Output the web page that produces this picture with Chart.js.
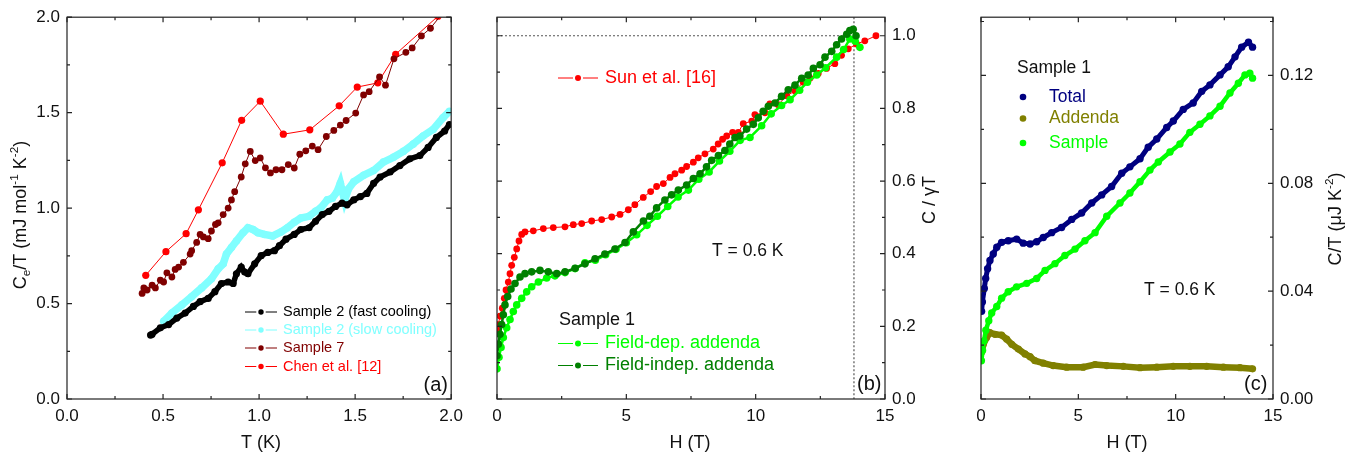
<!DOCTYPE html>
<html>
<head>
<meta charset="utf-8">
<script src="https://cdn.jsdelivr.net/npm/chart.js@4.4.1/dist/chart.umd.min.js"></script>
<style>
  html, body { margin: 0; padding: 0; background: #fff; }
  #wrap { position: relative; width: 1371px; height: 460px; overflow: hidden; }
  .pane { position: absolute; top: 0; height: 460px; }
</style>
</head>
<body>
<div id="wrap">
  <div class="pane" style="left:0;width:470px"><canvas id="cA" width="470" height="460"></canvas></div>
  <div class="pane" style="left:470px;width:490px"><canvas id="cB" width="490" height="460"></canvas></div>
  <div class="pane" style="left:960px;width:411px"><canvas id="cC" width="411" height="460"></canvas></div>
</div>
<script>
// ---- panel (a): Ce/T vs T ----
var fastT = [0.435,0.443,0.486,0.529,0.572,0.615,0.658,0.693,0.735,0.77,0.804,0.839,0.865,0.882,0.907,0.925,0.942,0.977,1.011,1.045,1.08,1.106,1.14,1.183,1.217,1.26,1.294,1.329,1.364,1.398,1.432,1.458,1.493,1.527,1.561,1.596,1.63,1.682,1.733,1.785,1.837,1.88,1.923,1.966,1.991];
var fastC = [0.335,0.339,0.373,0.39,0.424,0.45,0.485,0.51,0.527,0.562,0.605,0.613,0.605,0.656,0.691,0.665,0.656,0.708,0.751,0.768,0.777,0.803,0.837,0.862,0.888,0.897,0.931,0.966,0.983,1.009,1.026,1.017,1.043,1.06,1.077,1.129,1.163,1.189,1.223,1.258,1.275,1.318,1.37,1.404,1.438];
var slowT = [0.503,0.546,0.598,0.649,0.701,0.752,0.787,0.813,0.83,0.856,0.882,0.916,0.942,0.968,0.994,1.028,1.071,1.114,1.148,1.183,1.217,1.26,1.294,1.32,1.355,1.381,1.406,1.423,1.445,1.465,1.493,1.544,1.596,1.647,1.699,1.751,1.802,1.854,1.906,1.957,1.991];
var slowC = [0.407,0.45,0.493,0.536,0.582,0.63,0.682,0.708,0.759,0.794,0.828,0.871,0.897,0.888,0.871,0.862,0.854,0.875,0.897,0.926,0.948,0.957,0.983,1.0,1.043,1.052,1.086,1.13,1.04,1.1,1.138,1.172,1.197,1.241,1.266,1.297,1.335,1.378,1.412,1.473,1.507];
var s7T = [0.391,0.40,0.417,0.443,0.46,0.486,0.503,0.52,0.546,0.563,0.581,0.606,0.641,0.649,0.675,0.693,0.71,0.735,0.752,0.773,0.787,0.813,0.839,0.856,0.873,0.907,0.928,0.954,0.98,1.006,1.033,1.059,1.088,1.119,1.152,1.183,1.212,1.243,1.277,1.307,1.35,1.389,1.423,1.453,1.503,1.544,1.573,1.627,1.658,1.702,1.764,1.797,1.845,1.892,1.97];
var s7C = [0.553,0.582,0.571,0.596,0.582,0.622,0.613,0.661,0.639,0.679,0.691,0.716,0.759,0.777,0.82,0.862,0.849,0.84,0.88,0.914,0.923,0.966,1.0,1.043,1.086,1.163,1.232,1.297,1.249,1.263,1.211,1.184,1.201,1.201,1.228,1.21,1.282,1.3,1.325,1.306,1.375,1.407,1.435,1.459,1.498,1.593,1.61,1.687,1.644,1.782,1.816,1.839,1.902,1.942,2.04];
var chenT = [0.41,0.515,0.62,0.684,0.808,0.909,1.006,1.126,1.264,1.417,1.511,1.618,1.711,1.931,2.05];
var chenC = [0.648,0.772,0.866,0.991,1.237,1.46,1.56,1.387,1.41,1.536,1.634,1.656,1.806,2.005,2.12];

// ---- panel (b): C / gamma T vs H ----
var sunH = [0.02,0.05,0.116,0.205,0.282,0.348,0.437,0.503,0.568,0.669,0.762,0.85,0.955,1.082,1.403,1.79,2.176,2.628,2.949,3.274,3.66,4.047,4.434,4.755,5.077,5.33,5.655,5.94,6.17,6.43,6.69,6.88,7.14,7.33,7.59,7.78,8.04,8.36,8.55,8.72,8.88,9.11,9.33,9.52,9.85,9.97,10.36,10.55,10.87,11.2,11.52,11.84,12.1,12.42,12.74,13.06,13.32,13.58,13.9,14.22,14.65];
var sunC = [0.19,0.205,0.228,0.25,0.277,0.3,0.322,0.345,0.368,0.39,0.413,0.435,0.453,0.46,0.463,0.469,0.472,0.474,0.48,0.483,0.49,0.494,0.501,0.508,0.521,0.535,0.555,0.571,0.585,0.593,0.61,0.62,0.63,0.64,0.652,0.664,0.675,0.688,0.702,0.715,0.724,0.734,0.734,0.758,0.765,0.783,0.788,0.812,0.81,0.835,0.848,0.872,0.883,0.896,0.91,0.923,0.946,0.964,0.977,0.986,1.0,0.995];
var depH = [0.0,0.077,0.155,0.244,0.374,0.503,0.63,0.762,0.955,1.148,1.34,1.6,1.92,2.24,2.63,3.02,3.4,3.8,4.2,4.6,5.0,5.4,5.8,6.2,6.6,7.0,7.4,7.8,8.2,8.6,9.0,9.4,9.78,10.23,10.6,11.0,11.33,11.7,12.0,12.36,12.7,13.13,13.4,13.64,13.85,14.03];
var depC = [0.083,0.115,0.142,0.169,0.196,0.219,0.241,0.259,0.277,0.295,0.309,0.322,0.333,0.339,0.348,0.359,0.375,0.382,0.397,0.412,0.43,0.452,0.478,0.503,0.53,0.556,0.575,0.605,0.625,0.655,0.682,0.712,0.72,0.752,0.785,0.808,0.824,0.85,0.872,0.892,0.912,0.941,0.962,0.991,0.985,0.968];
var indH = [0,0.05,0.116,0.18,0.244,0.309,0.413,0.541,0.696,0.889,1.082,1.34,1.662,1.983,2.31,2.63,3.02,3.4,3.79,4.17,4.56,4.95,5.27,5.66,5.91,6.17,6.49,6.75,7.01,7.33,7.59,7.85,8.1,8.3,8.56,8.81,9.0,9.2,9.39,9.65,9.91,10.1,10.29,10.49,10.75,11.0,11.26,11.52,11.78,12.03,12.23,12.49,12.68,12.94,13.13,13.32,13.52,13.64,13.77,13.88];
var indC = [0.119,0.151,0.178,0.205,0.232,0.259,0.282,0.303,0.318,0.336,0.345,0.35,0.354,0.35,0.345,0.35,0.36,0.372,0.386,0.399,0.413,0.431,0.46,0.49,0.503,0.526,0.548,0.562,0.575,0.589,0.607,0.62,0.639,0.657,0.67,0.684,0.702,0.72,0.724,0.743,0.756,0.774,0.792,0.806,0.815,0.833,0.851,0.864,0.883,0.892,0.91,0.92,0.941,0.957,0.975,0.991,1.004,1.014,1.018,1.0];
var hc2 = 13.8;

// ---- panel (c): C/T vs H ----
var totH = [0.03,0.07,0.17,0.24,0.34,0.46,0.63,0.81,1.06,1.4,1.83,2.17,2.52,2.86,3.2,3.63,4.14,4.66,5.17,5.69,6.2,6.71,7.23,7.65,8.17,8.59,9.03,9.54,9.88,10.39,10.9,11.34,11.76,12.28,12.7,13.05,13.39,13.74,13.95];
var totC = [0.0325,0.036,0.041,0.0447,0.0483,0.0514,0.0538,0.0563,0.0581,0.0587,0.0593,0.0578,0.0575,0.0583,0.0599,0.0617,0.0636,0.0666,0.069,0.0727,0.0757,0.0788,0.0837,0.0861,0.0891,0.0934,0.0964,0.1007,0.1031,0.1074,0.1098,0.1141,0.1165,0.1202,0.1232,0.1269,0.1305,0.1323,0.1305];
var addH = [0.03,0.12,0.29,0.46,0.72,1.06,1.32,1.58,1.92,2.26,2.52,2.77,3.2,3.71,4.4,5.25,5.86,6.46,7.31,8.17,9.03,9.88,10.73,11.59,12.45,13.3,13.95];
var addC = [0.0173,0.0203,0.0228,0.0246,0.024,0.0237,0.0222,0.0203,0.0185,0.0167,0.0157,0.0142,0.0133,0.0124,0.0118,0.0118,0.0128,0.0124,0.0121,0.0116,0.0118,0.0121,0.0121,0.0121,0.0118,0.0116,0.0112];
var smpH = [0.02,0.08,0.15,0.25,0.4,0.55,0.81,1.06,1.4,1.83,2.35,2.86,3.29,3.8,4.31,4.83,5.34,5.86,6.46,7.14,7.65,8.17,8.68,9.11,9.71,10.22,10.73,11.25,11.76,12.28,12.79,13.22,13.56,13.81,13.95];
var smpC = [0.0142,0.018,0.0215,0.0255,0.029,0.0319,0.0343,0.0374,0.0398,0.0416,0.0429,0.0447,0.0477,0.0502,0.0532,0.0556,0.0587,0.0617,0.0678,0.0727,0.0764,0.0806,0.0849,0.0879,0.0916,0.0946,0.0989,0.1019,0.105,0.1086,0.1135,0.1171,0.1202,0.1208,0.119];

var fam = '"Liberation Sans", Arial, sans-serif';
Chart.defaults.font.family = fam;
Chart.defaults.color = '#111';

function pts(xs, ys) {
  return xs.map(function (x, i) { return { x: x, y: ys[i] }; });
}

function series(label, xs, ys, color, lw, r, order) {
  return {
    label: label, data: pts(xs, ys), showLine: true,
    borderColor: color, backgroundColor: color, borderWidth: lw,
    pointRadius: r, pointBorderWidth: 0, pointBackgroundColor: color,
    tension: 0, order: order
  };
}

function isMult(v, step) {
  return Math.abs(v / step - Math.round(v / step)) < 1e-6;
}

function txt(ctx, s, x, y, size, color, align) {
  ctx.font = size + 'px ' + fam;
  ctx.fillStyle = color;
  ctx.textAlign = align || 'left';
  ctx.textBaseline = 'middle';
  ctx.fillText(s, x, y);
}

// text with sub/superscripts, rotated about its centre
function rich(ctx, parts, x, y, size, angle) {
  ctx.save();
  ctx.translate(x, y);
  ctx.rotate(angle);
  ctx.textBaseline = 'middle';
  ctx.textAlign = 'left';
  ctx.fillStyle = '#111';
  var w = 0;
  parts.forEach(function (p) {
    ctx.font = (p[1] ? size * 0.65 : size) + 'px ' + fam;
    w += ctx.measureText(p[0]).width;
  });
  var cx = -w / 2;
  parts.forEach(function (p) {
    var s = p[1] ? size * 0.65 : size;
    ctx.font = s + 'px ' + fam;
    var dy = p[1] === 'sup' ? -size * 0.36 : (p[1] === 'sub' ? size * 0.3 : 0);
    ctx.fillText(p[0], cx, dy);
    cx += ctx.measureText(p[0]).width;
  });
  ctx.restore();
}

function legendRow(ctx, x0, x1, y, r, color, label, tx, size) {
  var xm = (x0 + x1) / 2;
  ctx.strokeStyle = color;
  ctx.lineWidth = 1;
  ctx.beginPath();
  ctx.moveTo(x0, y); ctx.lineTo(xm - r - 2, y);
  ctx.moveTo(xm + r + 2, y); ctx.lineTo(x1, y);
  ctx.stroke();
  ctx.fillStyle = color;
  ctx.beginPath(); ctx.arc(xm, y, r, 0, Math.PI * 2); ctx.fill();
  txt(ctx, label, tx, y, size, color);
}

// frame on all four sides with inward ticks taken from the scales
var frameTicks = {
  id: 'frameTicks',
  afterDraw: function (chart) {
    var ctx = chart.ctx, a = chart.chartArea;
    var xs = chart.scales.x, ys = chart.scales.y;
    ctx.save();
    ctx.strokeStyle = '#222';
    ctx.lineWidth = 1.2;
    ctx.strokeRect(a.left, a.top, a.right - a.left, a.bottom - a.top);
    ctx.beginPath();
    xs.ticks.forEach(function (t) {
      var px = xs.getPixelForValue(t.value);
      var len = t.label ? 5 : 3;
      ctx.moveTo(px, a.bottom); ctx.lineTo(px, a.bottom - len);
      ctx.moveTo(px, a.top); ctx.lineTo(px, a.top + len);
    });
    ys.ticks.forEach(function (t) {
      var py = ys.getPixelForValue(t.value);
      var len = t.label ? 5 : 3;
      ctx.moveTo(a.left, py); ctx.lineTo(a.left + len, py);
      ctx.moveTo(a.right, py); ctx.lineTo(a.right - len, py);
    });
    ctx.stroke();
    ctx.restore();
  }
};

function axis(pos, min, max, step, labStep, fmt, size) {
  return {
    type: 'linear', position: pos, min: min, max: max,
    grid: { display: false, drawTicks: false },
    border: { display: false },
    afterFit: function (s) {
      if (pos === 'bottom') s.height = 61;
      else s.width = size;
    },
    ticks: {
      stepSize: step, includeBounds: false, autoSkip: false, maxRotation: 0,
      padding: 7, color: '#111', font: { size: 17 },
      callback: function (v) { return isMult(v, labStep) ? fmt(v) : ''; }
    }
  };
}

function baseOptions(xAxis, yAxis, pad) {
  return {
    responsive: false, animation: false, events: [],
    layout: { padding: pad },
    plugins: { legend: { display: false }, tooltip: { enabled: false } },
    scales: { x: xAxis, y: yAxis }
  };
}

// ---- chart (a) ----
new Chart(document.getElementById('cA'), {
  type: 'scatter',
  data: {
    datasets: [
      series('Sample 2 (fast cooling)', fastT, fastC, '#000000', 5.5, 3.6, 1),
      series('Sample 2 (slow cooling)', slowT, slowC, '#80ffff', 7.5, 3.8, 2),
      series('Sample 7', s7T, s7C, '#800000', 1, 3.4, 3),
      series('Chen et al. [12]', chenT, chenC, '#ff0000', 1, 3.6, 4)
    ]
  },
  options: baseOptions(
    axis('bottom', 0, 2, 0.25, 0.5, function (v) { return v.toFixed(1); }),
    axis('left', 0, 2, 0.25, 0.5, function (v) { return v.toFixed(1); }, 67),
    { top: 11, right: 15, left: 0, bottom: 0 }
  ),
  plugins: [frameTicks, {
    id: 'textA',
    afterDraw: function (chart) {
      var ctx = chart.ctx;
      txt(ctx, 'T (K)', 261, 443, 18, '#111', 'center');
      rich(ctx, [['C'], ['e', 'sub'], ['/T (mJ mol'], ['-1', 'sup'], [' K'], ['-2', 'sup'], [')']], 21, 215, 18, -Math.PI / 2);
      legendRow(ctx, 245, 277, 312, 2.7, '#000000', 'Sample 2 (fast cooling)', 283, 14.5);
      legendRow(ctx, 245, 277, 330, 2.7, '#80ffff', 'Sample 2 (slow cooling)', 283, 14.5);
      legendRow(ctx, 245, 277, 348, 2.7, '#800000', 'Sample 7', 283, 14.5);
      legendRow(ctx, 245, 277, 366.5, 2.7, '#ff0000', 'Chen et al. [12]', 283, 14.5);
      txt(ctx, '(a)', 448, 385, 20, '#111', 'right');
    }
  }]
});

// ---- chart (b) ----
new Chart(document.getElementById('cB'), {
  type: 'scatter',
  data: {
    datasets: [
      series('Field-indep. addenda', indH, indC, '#008000', 2.5, 3.8, 1),
      series('Field-dep. addenda', depH, depC, '#00ff00', 2.5, 3.8, 2),
      series('Sun et al. [16]', sunH, sunC, '#ff0000', 1, 3.4, 3)
    ]
  },
  options: baseOptions(
    axis('bottom', 0, 15, 2.5, 5, function (v) { return String(v); }),
    axis('right', 0, 1.051, 0.1, 0.2, function (v) { return v.toFixed(1); }, 75),
    { top: 11, right: 0, left: 27, bottom: 0 }
  ),
  plugins: [{
    id: 'guideB',
    beforeDatasetsDraw: function (chart) {
      var ctx = chart.ctx, a = chart.chartArea;
      var px = chart.scales.x.getPixelForValue(hc2);
      var py = chart.scales.y.getPixelForValue(1.0);
      ctx.save();
      ctx.strokeStyle = '#555';
      ctx.lineWidth = 1.2;
      ctx.setLineDash([2, 2]);
      ctx.beginPath();
      ctx.moveTo(a.left, py); ctx.lineTo(px, py);
      ctx.moveTo(px, a.top); ctx.lineTo(px, a.bottom);
      ctx.stroke();
      ctx.restore();
    }
  }, frameTicks, {
    id: 'textB',
    afterDraw: function (chart) {
      var ctx = chart.ctx;
      txt(ctx, 'H (T)', 220, 443, 18, '#111', 'center');
      rich(ctx, [['C / \u03b3T']], 460, 200, 18, -Math.PI / 2);
      legendRow(ctx, 88, 128, 78, 3, '#ff0000', 'Sun et al. [16]', 135, 18);
      txt(ctx, 'Sample 1', 89, 320, 18, '#111');
      legendRow(ctx, 88, 128, 343.5, 3, '#00ff00', 'Field-dep. addenda', 135, 18);
      legendRow(ctx, 88, 128, 365.5, 3, '#008000', 'Field-indep. addenda', 135, 18);
      txt(ctx, 'T = 0.6 K', 242, 251, 17.5, '#111');
      txt(ctx, '(b)', 387, 384, 20, '#111');
    }
  }]
});

// ---- chart (c) ----
new Chart(document.getElementById('cC'), {
  type: 'scatter',
  data: {
    datasets: [
      series('Total', totH, totC, '#000080', 5, 3.7, 1),
      series('Sample', smpH, smpC, '#00ff00', 4.5, 3.7, 2),
      series('Addenda', addH, addC, '#808000', 6.5, 3.6, 3)
    ]
  },
  options: baseOptions(
    axis('bottom', 0, 15, 2.5, 5, function (v) { return String(v); }),
    axis('right', 0, 0.1416, 0.02, 0.04, function (v) { return v.toFixed(2); }, 98),
    { top: 11, right: 0, left: 21, bottom: 0 }
  ),
  plugins: [frameTicks, {
    id: 'textC',
    afterDraw: function (chart) {
      var ctx = chart.ctx;
      txt(ctx, 'H (T)', 167, 443, 18, '#111', 'center');
      rich(ctx, [['C/T (\u03bcJ K'], ['-2', 'sup'], [')']], 376, 219, 18, -Math.PI / 2);
      txt(ctx, 'Sample 1', 57, 68, 17.5, '#111');
      var rows = [['Total', '#000080', 97], ['Addenda', '#808000', 118.5], ['Sample', '#00ff00', 143]];
      rows.forEach(function (r) {
        ctx.fillStyle = r[1];
        ctx.beginPath(); ctx.arc(63, r[2], 3.3, 0, Math.PI * 2); ctx.fill();
        txt(ctx, r[0], 89, r[2], 17.5, r[1]);
      });
      txt(ctx, 'T = 0.6 K', 184, 290, 17.5, '#111');
      txt(ctx, '(c)', 284, 384, 20, '#111');
    }
  }]
});
</script>
</body>
</html>
